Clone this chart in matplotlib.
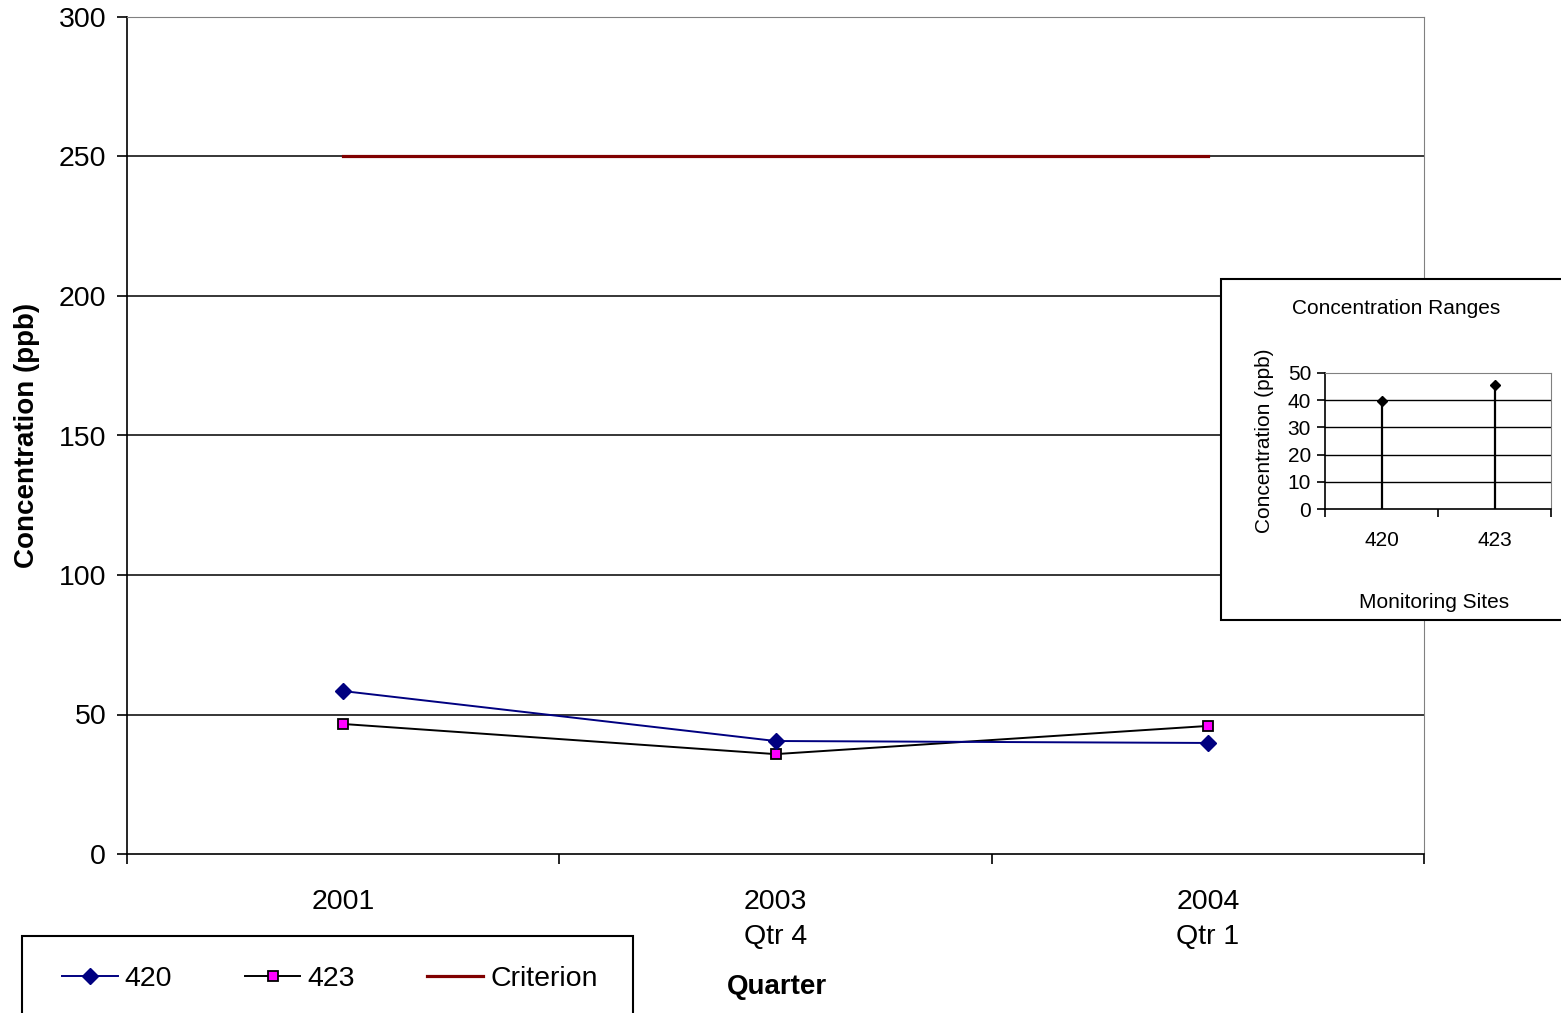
import matplotlib.pyplot as plt
from matplotlib.patches import Rectangle
from matplotlib.lines import Line2D

plt.rcParams['font.family'] = ['Liberation Sans', 'DejaVu Sans']

# quarterly results
quarters = ['2001', '2003\nQtr 4', '2004\nQtr 1']
site_420 = [58.4, 40.5, 39.8]
site_423 = [46.6, 35.8, 45.9]
criterion = [250, 250, 250]

# small panel: latest value per monitoring site
sites = ['420', '423']
site_range = [39.7, 45.6]

W, H = 1561, 1013
fig = plt.figure(figsize=(W / 100, H / 100), dpi=100)

ax = fig.add_axes([127 / W, 1 - 854 / H, (1424 - 127) / W, (854 - 17) / H])
x = list(range(len(quarters)))
for y in range(50, 300, 50):
    ax.axhline(y, color='black', lw=1.1, zorder=1)
ax.plot(x, criterion, color='#800000', lw=2.3, zorder=3)
ax.plot(x, site_423, color='black', lw=1.4, marker='s', ms=7, mfc='#FF00FF', mec='black', mew=1.3, zorder=4)
ax.plot(x, site_420, color='#000080', lw=1.4, marker='D', ms=8, mfc='#000080', mec='#000080', zorder=5)

ax.set_xlim(-0.5, 2.5)
ax.set_ylim(0, 300)
ax.set_yticks(range(0, 301, 50))
ax.set_xticks(x)
ax.set_xticklabels(quarters, linespacing=1.45)
ax.set_xticks([-0.5, 0.5, 1.5, 2.5], minor=True)
ax.tick_params(axis='x', which='major', length=0, pad=25, labelsize=20.5)
ax.tick_params(axis='x', which='minor', length=7, width=1.2, direction='out')
ax.tick_params(axis='y', length=7, width=1.2, direction='out', labelsize=20.5, pad=8)
for s in ('top', 'right'):
    ax.spines[s].set_color('#808080')
for s in ('left', 'bottom'):
    ax.spines[s].set_linewidth(1.2)
ax.set_ylabel('Concentration (ppb)', fontsize=20, fontweight='bold', labelpad=13)
fig.text(777 / W, 1 - 987 / H, 'Quarter', fontsize=20, fontweight='bold', ha='center', va='center')

# legend panel
fig.add_artist(Rectangle((22 / W, -0.05), (633 - 22) / W, 1 - 936 / H + 0.05,
                         transform=fig.transFigure, facecolor='white', edgecolor='black', lw=1.5))
handles = [
    Line2D([], [], color='#000080', lw=1.4, marker='D', ms=8, mfc='#000080', mec='#000080'),
    Line2D([], [], color='black', lw=1.4, marker='s', ms=7, mfc='#FF00FF', mec='black', mew=1.3),
    Line2D([], [], color='#800000', lw=2.3),
]
fig.legend(handles, ['420', '423', 'Criterion'], loc='center left',
           bbox_to_anchor=(62 / W, 1 - 979 / H), ncol=3, frameon=False, fontsize=20.5,
           borderpad=0, borderaxespad=0, handlelength=1.95, handletextpad=0.25,
           columnspacing=2.55)

# inset with site ranges
fig.add_artist(Rectangle((1221 / W, 1 - 620 / H), 0.3, (620 - 279) / H,
                         transform=fig.transFigure, facecolor='white', edgecolor='black', lw=1.5))
ins = fig.add_axes([1325 / W, 1 - 509 / H, (1551 - 1325) / W, (509 - 373) / H], zorder=3)
sx = list(range(len(sites)))
for y in range(10, 50, 10):
    ins.axhline(y, color='black', lw=1.0, zorder=1)
ins.vlines(sx, 0, site_range, color='black', lw=1.6, zorder=3)
ins.plot(sx, site_range, ls='none', marker='D', ms=5, color='black', zorder=4)
ins.set_xlim(-0.5, 1.5)
ins.set_ylim(0, 50)
ins.set_yticks(range(0, 51, 10))
ins.set_xticks(sx)
ins.set_xticklabels(sites)
ins.set_xticks([-0.5, 0.5, 1.5], minor=True)
ins.tick_params(axis='x', which='major', length=0, pad=16, labelsize=15)
ins.tick_params(axis='x', which='minor', length=6, width=1.2, direction='out')
ins.tick_params(axis='y', length=6, width=1.2, direction='out', labelsize=15, pad=4)
for s in ('top', 'right'):
    ins.spines[s].set_color('#808080')
for s in ('left', 'bottom'):
    ins.spines[s].set_linewidth(1.2)
ins.set_ylabel('Concentration (ppb)', fontsize=15, labelpad=10)
fig.text(1396 / W, 1 - 308 / H, 'Concentration Ranges', fontsize=15, ha='center', va='center')
fig.text(1434 / W, 1 - 602 / H, 'Monitoring Sites', fontsize=15, ha='center', va='center')

fig.savefig('out.png', dpi=100)
